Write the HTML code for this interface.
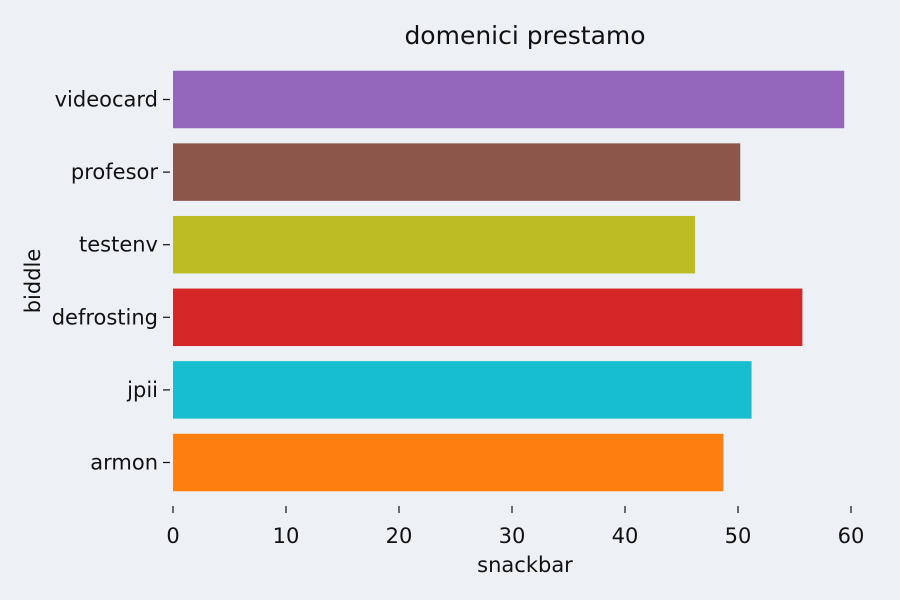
<!DOCTYPE html>
<html><head><meta charset="utf-8"><style>
body{margin:0;background:#edf0f5;}
svg{display:block;font-family:"DejaVu Sans","Liberation Sans",sans-serif;}
</style></head><body>
<svg id="chart" width="900" height="600">
<rect width="900" height="600" fill="#edf0f5"/>
<text x="525" y="44" font-size="25" text-anchor="middle" fill="#111">domenici prestamo</text>
<text x="525" y="572" font-size="21" text-anchor="middle" fill="#111">snackbar</text>
<text x="0" y="0" font-size="21" text-anchor="middle" fill="#111" transform="translate(40,281) rotate(-90)">biddle</text>
<g id="bars"></g><g id="xt"></g><g id="yt"></g>
</svg>
<script>
const categories=["armon","jpii","defrosting","testenv","profesor","videocard"];
const values=[48.7,51.2,55.7,46.2,50.2,59.4];
const colors=["#ff7f0e","#17becf","#d62728","#bcbd22","#8c564b","#9467bd"];
const xTicks=[0,10,20,30,40,50,60];
const NS="http://www.w3.org/2000/svg";
const x=v=>173+v*(851-173)/60;
const yc=i=>462.5-i*72.6;
const bh=57.5;
function mk(t,a,p){const e=document.createElementNS(NS,t);for(const k in a)e.setAttribute(k,a[k]);p.appendChild(e);return e;}
const bars=document.getElementById('bars'),xt=document.getElementById('xt'),yt=document.getElementById('yt');
categories.forEach((c,i)=>{
 const r=mk('rect',{x:x(0),y:yc(i)-bh/2,width:x(values[i])-x(0),height:bh,fill:colors[i]},bars);
 
 
 const l=mk('line',{x1:163,x2:170,y1:yc(i),y2:yc(i),stroke:'#111','stroke-width':1.2},yt);
 
 
 const t=mk('text',{x:158,y:yc(i)+7,'font-size':21,'text-anchor':'end',fill:'#111'},yt);
 t.textContent=c;
 
 
});
xTicks.forEach(v=>{
 const l=mk('line',{x1:x(v),x2:x(v),y1:506,y2:513,stroke:'#111','stroke-width':1.2},xt);
 
 
 const t=mk('text',{x:x(v),y:543,'font-size':21,'text-anchor':'middle',fill:'#111'},xt);
 t.textContent=v;
 
 
});
</script>
</body></html>
